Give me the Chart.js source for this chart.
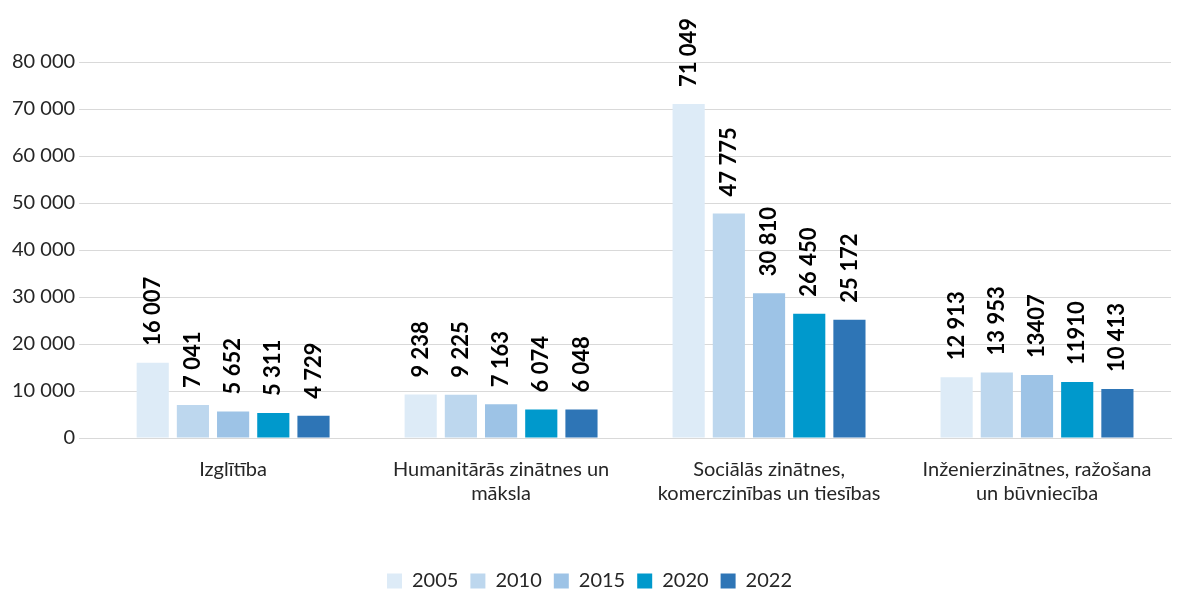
<!DOCTYPE html>
<html>
<head>
<meta charset="utf-8">
<script src="https://cdn.jsdelivr.net/npm/chart.js@4"></script>
<style>
    html, body { margin: 0; padding: 0; background: #fff; }
    #wrap { width: 1183px; height: 591px; }
</style>
</head>
<body>
<div id="wrap"><canvas id="chart"></canvas></div>
<script>
const categories = [
    ['Izglītība'],
    ['Humanitārās zinātnes un', 'māksla'],
    ['Sociālās zinātnes,', 'komerczinības un tiesības'],
    ['Inženierzinātnes, ražošana', 'un būvniecība']
];
const years = ['2005', '2010', '2015', '2020', '2022'];
const values2005 = [16007, 9238, 71049, 12913];
const values2010 = [7041, 9225, 47775, 13953];
const values2015 = [5652, 7163, 30810, 13407];
const values2020 = [5311, 6074, 26450, 11910];
const values2022 = [4729, 6048, 25172, 10413];
const colors = ['#DDEBF7', '#BDD7EE', '#9DC3E6', '#0099CC', '#2E75B6'];
// labels printed without the thousands space in the original
const plainLabels = ['2:3', '3:3'];

function fmt(v) {
    return String(v).replace(/\B(?=(\d{3})+(?!\d))/g, ' ');
}

const barLabels = {
    id: 'barLabels',
    afterDatasetsDraw(chart) {
        const ctx = chart.ctx;
        ctx.save();
        ctx.font = 'bold 22px Lato';
        ctx.fillStyle = '#000';
        ctx.textAlign = 'left';
        ctx.textBaseline = 'middle';
        chart.data.datasets.forEach((ds, di) => {
            chart.getDatasetMeta(di).data.forEach((bar, i) => {
                const v = ds.data[i];
                const text = plainLabels.includes(di + ':' + i) ? String(v) : fmt(v);
                ctx.save();
                ctx.translate(bar.x, bar.y - 17);
                ctx.rotate(-Math.PI / 2);
                ctx.fillText(text, 0, 0);
                ctx.restore();
            });
        });
        ctx.restore();
    }
};

const series = [values2005, values2010, values2015, values2020, values2022];

new Chart(document.getElementById('chart'), {
    type: 'bar',
    data: {
        labels: categories,
        datasets: series.map((vals, i) => ({
            label: years[i],
            data: vals,
            backgroundColor: colors[i],
            categoryPercentage: 0.75,
            barPercentage: 0.8
        }))
    },
    options: {
        responsive: true,
        maintainAspectRatio: false,
        animation: false,
        layout: { padding: { top: 62, right: 12, left: 8, bottom: -10 } },
        plugins: {
            legend: {
                position: 'bottom',
                labels: {
                    boxWidth: 15,
                    boxHeight: 15,
                    padding: 12,
                    color: '#262626',
                    font: { family: 'Lato', size: 20 }
                }
            },
            tooltip: { enabled: false }
        },
        scales: {
            x: {
                grid: { display: false },
                border: { color: '#D9D9D9' },
                ticks: {
                    color: '#262626',
                    font: { family: 'Lato', size: 20 },
                    maxRotation: 0,
                    padding: 12
                },
                afterFit(scale) { scale.height += 41; }
            },
            y: {
                min: 0,
                max: 80000,
                border: { display: false },
                grid: { color: '#D9D9D9', tickLength: 20 },
                ticks: {
                    stepSize: 10000,
                    color: '#262626',
                    font: { family: 'Lato', size: 20 },
                    padding: 4,
                    callback: v => fmt(v)
                }
            }
        }
    },
    plugins: [barLabels]
});
</script>
</body>
</html>
